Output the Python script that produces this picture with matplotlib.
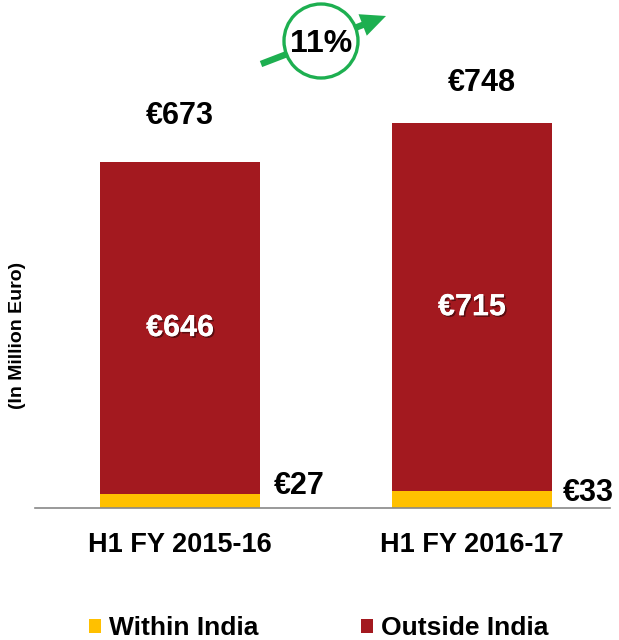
import matplotlib.pyplot as plt
import matplotlib.patheffects as pe
from matplotlib.patches import Ellipse, FancyArrow

plt.rcParams['font.family'] = ['Liberation Sans', 'DejaVu Sans']
plt.rcParams['font.weight'] = 'bold'

periods = ["H1 FY 2015-16", "H1 FY 2016-17"]
within_india = [27, 33]
outside_india = [646, 715]
totals = [673, 748]
growth_label = "11%"

RED = "#A3191F"
YELLOW = "#FFC000"
GREEN = "#1DAF50"

W, H = 619, 640
fig = plt.figure(figsize=(W / 100, H / 100), dpi=100)
ax = fig.add_axes([35 / W, 132 / H, 575 / W, 508 / H])

x = list(range(len(periods)))
bw = 0.548
ax.bar(x, within_india, width=bw, color=YELLOW, label="Within India")
ax.bar(x, outside_india, width=bw, bottom=within_india, color=RED, label="Outside India")

ax.set_xlim(-0.497, 1.473)
ax.set_ylim(0, 988)

shadow = [pe.withSimplePatchShadow(offset=(1.2, -1.2), shadow_rgbFace="black", alpha=0.45), pe.Normal()]
top_off = [(0.0, 90), (0.034, 79)]
low_off = [(0.407, 16), (0.399, -3)]
for xi, w, o, t, (dx, dy), (lx, ly) in zip(x, within_india, outside_india, totals, top_off, low_off):
    ax.text(xi + dx, t + dy, f"€{t}", ha="center", va="center", fontsize=22, color="black")
    ax.text(xi, w + o * 0.5, f"€{o}", ha="center", va="center", fontsize=22, color="white",
            path_effects=shadow)
    ax.text(xi + lx, w + ly, f"€{w}", ha="center", va="center", fontsize=22, color="black")

ax.set_xticks(x)
ax.set_xticklabels(periods, fontsize=19.5)
ax.tick_params(axis="x", length=0, pad=17)
ax.set_yticks([])
for s in ["top", "right", "left"]:
    ax.spines[s].set_visible(False)
ax.spines["bottom"].set_color("#888888")
ax.spines["bottom"].set_linewidth(1.2)

fig.text(18 / W, 1 - 335 / H, "(In Million Euro)", rotation=90, ha="center", va="center", fontsize=14)

# growth arrow (in inches, so it stays undistorted) and circle on top
x0, y0 = 2.61, (H - 64) / 100
x1, y1 = 3.86, (H - 16) / 100
arrow = FancyArrow(x0, y0, x1 - x0, y1 - y0, width=0.065, head_width=0.23, head_length=0.25,
                   length_includes_head=True, color=GREEN, lw=0,
                   transform=fig.dpi_scale_trans, zorder=4)
fig.patches.append(arrow)
circ = Ellipse((321 / W, 1 - 41 / H), 74 / W, 74 / H, transform=fig.transFigure,
               facecolor="white", edgecolor=GREEN, lw=2.4, zorder=5)
fig.patches.append(circ)
fig.text(321 / W, 1 - 44 / H, growth_label, ha="center", va="center", fontsize=23, zorder=6)

leg = fig.legend(loc="center", bbox_to_anchor=(319 / W, 1 - 628 / H), ncol=2, frameon=False,
                 fontsize=19, handlelength=0.45, handleheight=0.45, handletextpad=0.3,
                 columnspacing=3.9)

fig.savefig("out.png", dpi=100)
